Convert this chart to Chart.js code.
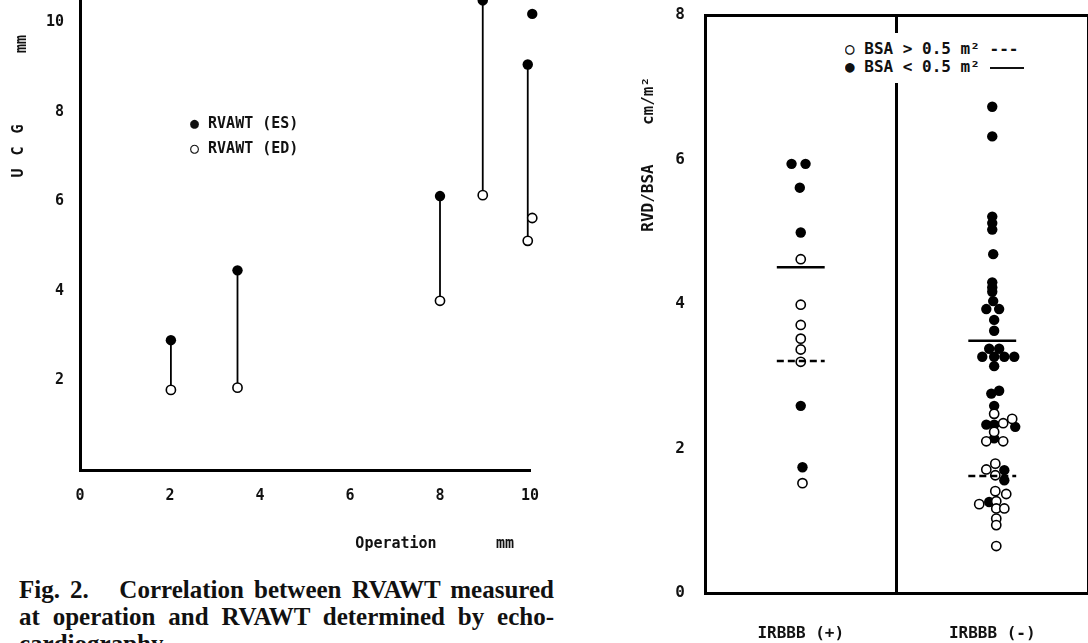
<!DOCTYPE html>
<html lang="en">
<head>
  <meta charset="UTF-8">
  <title>Fig. 2 - RVAWT / RVD-BSA</title>
  <script src="https://cdn.jsdelivr.net/npm/chart.js@4"></script>
  <style>
    html, body { margin: 0; padding: 0; width: 1088px; height: 643px; overflow: hidden; background: #fff; }
    #page { position: relative; width: 1088px; height: 643px; overflow: hidden; }
    #leftBox { position: absolute; left: 0; top: 0; width: 600px; height: 560px; }
    #rightBox { position: absolute; left: 640px; top: 0; width: 450px; height: 643px; }
    .txt {
      position: absolute;
      font-family: "DejaVu Sans Mono", monospace;
      font-weight: bold;
      color: #111;
      white-space: pre;
      line-height: 1;
    }
    .rot { transform: translate(-50%, -50%) rotate(-90deg); }
    .mid { transform: translate(-50%, -50%); }
    #legendLeft { left: 190px; top: 111px; font-size: 15px; line-height: 25px; }
    #legendRight {
      left: 845px; top: 33px; width: 192px; height: 50px;
      background: #fff; font-size: 16px; line-height: 18px; padding-top: 7px; box-sizing: border-box;
    }
    .solidMark { display: inline-block; width: 34px; border-top: 2px solid #111; vertical-align: middle; }
    #caption {
      position: absolute; left: 19px; top: 576px; width: 535px;
      font-family: "Liberation Serif", "Times New Roman", serif;
      font-weight: bold; font-size: 25px; line-height: 27px; color: #111;
    }
    #caption div { text-align: justify; text-align-last: justify; white-space: nowrap; }
    #caption div.last { text-align-last: left; }
  </style>
</head>
<body>
  <div id="page">
    <div id="leftBox"><canvas id="leftChart" width="600" height="560"></canvas></div>
    <div id="rightBox"><canvas id="rightChart" width="450" height="643"></canvas></div>

    <!-- left chart texts -->
    <div class="txt rot" style="left:21px; top:44px; font-size:15px;">mm</div>
    <div class="txt rot" style="left:18px; top:150px; font-size:15px; letter-spacing:2px;">U C G</div>
    <div class="txt mid" style="left:396px; top:543px; font-size:15px;">Operation</div>
    <div class="txt mid" style="left:505px; top:543px; font-size:15px;">mm</div>
    <div class="txt" id="legendLeft">● RVAWT (ES)<br>○ RVAWT (ED)</div>

    <!-- right chart texts -->
    <div class="txt rot" style="left:648px; top:101px; font-size:16px;">cm/m²</div>
    <div class="txt rot" style="left:648px; top:198px; font-size:16px;">RVD/BSA</div>
    <div class="txt" id="legendRight">○ BSA &gt; 0.5 m² ---<br>● BSA &lt; 0.5 m² <span class="solidMark"></span></div>

    <div id="caption">
      <div>Fig. 2.&nbsp;&nbsp; Correlation between RVAWT measured</div>
      <div>at operation and RVAWT determined by echo-</div>
      <div class="last">cardiography.</div>
    </div>
  </div>

  <script>
    /* ---- left chart data: RVAWT at operation vs UCG (mm) ---- */
    var operationMm = [2.02, 3.50, 8.00, 8.95, 9.95, 10.05];
    var ucgES = [2.90, 4.46, 6.12, 10.49, 9.06, 10.19];
    var ucgED = [1.79, 1.84, 3.78, 6.14, 5.12, 5.63];
    var leftXTicks = [0, 2, 4, 6, 8, 10];
    var leftYTicks = [2, 4, 6, 8, 10];

    /* ---- right chart data: RVD/BSA (cm/m2) by group ---- */
    var groups = ["IRBBB (+)", "IRBBB (-)"];
    var rightYTicks = [0, 2, 4, 6, 8];
    // IRBBB (+)
    var plusLargeY = [4.62, 3.99, 3.71, 3.52, 3.37, 3.20, 1.52];
    var plusLargeX = [0.500, 0.500, 0.500, 0.500, 0.500, 0.500, 0.509];
    var plusSmallY = [5.94, 5.94, 5.61, 4.99, 2.59, 1.74];
    var plusSmallX = [0.452, 0.525, 0.495, 0.500, 0.500, 0.509];
    // IRBBB (-)
    var minusLargeY = [2.48, 2.41, 2.35, 2.23, 2.10, 2.10, 1.79, 1.71, 1.63, 1.41, 1.37, 1.27, 1.23, 1.17, 1.17, 1.03, 0.94, 0.65];
    var minusLargeX = [1.510, 1.604, 1.557, 1.510, 1.469, 1.557, 1.516, 1.469, 1.516, 1.516, 1.573, 1.521, 1.432, 1.521, 1.563, 1.521, 1.521, 1.521];
    var minusSmallY = [6.73, 6.32, 5.21, 5.12, 5.03, 4.69, 4.30, 4.23, 4.17, 4.04, 3.93, 3.93, 3.78, 3.63, 3.38, 3.38,
                       3.27, 3.27, 3.27, 3.27, 3.14, 2.80, 2.76, 2.59, 2.33, 2.33, 2.30, 2.14, 1.70, 1.56, 1.26];
    var minusSmallX = [1.500, 1.500, 1.500, 1.500, 1.500, 1.505, 1.500, 1.500, 1.500, 1.505, 1.469, 1.536, 1.510, 1.510, 1.484, 1.536,
                       1.448, 1.510, 1.563, 1.615, 1.510, 1.536, 1.495, 1.510, 1.469, 1.510, 1.620, 1.510, 1.563, 1.563, 1.484];
    // group means (dashed: BSA > 0.5, solid: BSA < 0.5)
    var meanLarge = [3.21, 1.62];
    var meanSmall = [4.51, 3.49];

    var MEAN_HALF = 0.125;
    var FONT = "DejaVu Sans Mono";

    function toPoints(xs, ys) {
      return ys.map(function(y, i) { return { x: xs[i], y: y }; });
    }

    /* vertical link between ES and ED of each case */
    function linkPoints() {
      var d = [];
      for (var i = 0; i < operationMm.length; i++) {
        d.push({ x: operationMm[i], y: ucgES[i] });
        d.push({ x: operationMm[i], y: ucgED[i] });
        d.push({ x: operationMm[i], y: null });
      }
      return d;
    }

    /* short horizontal mean bar for each group */
    function meanPoints(means) {
      var d = [];
      means.forEach(function(m, i) {
        d.push({ x: i + 0.5 - MEAN_HALF, y: m });
        d.push({ x: i + 0.5 + MEAN_HALF, y: m });
        d.push({ x: i + 0.5, y: null });
      });
      return d;
    }

    /* fix the axis box size and drop the label overflow padding Chart.js adds */
    function fixSize(w, h) {
      return function(s) {
        if (w != null) s.width = w;
        if (h != null) s.height = h;
        s.paddingTop = 0; s.paddingBottom = 0; s.paddingLeft = 0; s.paddingRight = 0;
      };
    }

    var filled = { backgroundColor: "#000", borderColor: "#000", borderWidth: 0, pointRadius: 5.2, showLine: false, clip: false };
    var open = { backgroundColor: "#fff", borderColor: "#000", borderWidth: 1.6, pointRadius: 4.6, showLine: false, clip: false };

    Chart.defaults.animation = false;
    Chart.defaults.font.family = FONT;
    Chart.defaults.color = "#111";

    /* ---- left chart ---- */
    new Chart(document.getElementById("leftChart"), {
      type: "scatter",
      data: {
        datasets: [
          Object.assign({ label: "RVAWT (ES)", data: toPoints(operationMm, ucgES), order: 0 }, filled),
          Object.assign({ label: "RVAWT (ED)", data: toPoints(operationMm, ucgED), order: 1 }, open),
          { label: "link", data: linkPoints(), showLine: true, spanGaps: false, pointRadius: 0,
            borderColor: "#000", borderWidth: 1.8, order: 2, clip: false }
        ]
      },
      options: {
        responsive: false,
        devicePixelRatio: 1,
        layout: { autoPadding: false, padding: { top: 0, right: 70, left: 0, bottom: 0 } },
        plugins: { legend: { display: false }, tooltip: { enabled: false } },
        scales: {
          x: {
            type: "linear", min: 0, max: 10,
            afterBuildTicks: function(s) { s.ticks = leftXTicks.map(function(v) { return { value: v }; }); },
            afterFit: fixSize(null, 90),
            grid: { display: false, drawTicks: false },
            border: { display: true, width: 3, color: "#000" },
            ticks: { padding: 17, font: { size: 15, weight: "bold" } }
          },
          y: {
            type: "linear", min: 0, max: 10.5,
            afterBuildTicks: function(s) { s.ticks = leftYTicks.map(function(v) { return { value: v }; }); },
            afterFit: fixSize(80, null),
            grid: { display: false, drawTicks: false },
            border: { display: true, width: 3, color: "#000" },
            ticks: { padding: 16, font: { size: 15, weight: "bold" } }
          }
        }
      }
    });

    /* ---- right chart ---- */
    var groupTicks = [];
    for (var g = 0; g <= groups.length; g++) {
      groupTicks.push(g);
      if (g < groups.length) groupTicks.push(g + 0.5);
    }

    new Chart(document.getElementById("rightChart"), {
      type: "scatter",
      data: {
        datasets: [
          { label: "mean BSA < 0.5", data: meanPoints(meanSmall), showLine: true, spanGaps: false, pointRadius: 0,
            borderColor: "#000", borderWidth: 2.5, order: 0, clip: false },
          { label: "mean BSA > 0.5", data: meanPoints(meanLarge), showLine: true, spanGaps: false, pointRadius: 0,
            borderColor: "#000", borderWidth: 2.5, borderDash: [7, 4], order: 0, clip: false },
          Object.assign({ label: "IRBBB(+) BSA > 0.5", data: toPoints(plusLargeX, plusLargeY), order: 1 }, open),
          Object.assign({ label: "IRBBB(+) BSA < 0.5", data: toPoints(plusSmallX, plusSmallY), order: 2 }, filled),
          Object.assign({ label: "IRBBB(-) BSA > 0.5", data: toPoints(minusLargeX, minusLargeY), order: 1 }, open),
          Object.assign({ label: "IRBBB(-) BSA < 0.5", data: toPoints(minusSmallX, minusSmallY), order: 2 }, filled)
        ]
      },
      options: {
        responsive: false,
        devicePixelRatio: 1,
        layout: { autoPadding: false, padding: { top: 15, right: 2, left: 0, bottom: 0 } },
        plugins: { legend: { display: false }, tooltip: { enabled: false } },
        scales: {
          x: {
            type: "linear", min: 0, max: groups.length,
            afterBuildTicks: function(s) { s.ticks = groupTicks.map(function(v) { return { value: v }; }); },
            afterFit: fixSize(null, 50),
            grid: {
              drawTicks: false,
              lineWidth: 3,
              color: function(ctx) { return ctx.tick && Number.isInteger(ctx.tick.value) ? "#000" : "rgba(0,0,0,0)"; }
            },
            border: { display: true, width: 3, color: "#000" },
            ticks: {
              padding: 31,
              autoSkip: false,
              maxRotation: 0,
              font: { size: 16, weight: "bold" },
              callback: function(v) { var i = v - 0.5; return Number.isInteger(i) ? groups[i] : ""; }
            }
          },
          y: {
            type: "linear", min: 0, max: 8,
            afterBuildTicks: function(s) { s.ticks = rightYTicks.map(function(v) { return { value: v }; }); },
            afterFit: fixSize(65, null),
            grid: {
              drawTicks: false,
              lineWidth: 3,
              color: function(ctx) { return ctx.tick && ctx.tick.value === 8 ? "#000" : "rgba(0,0,0,0)"; }
            },
            border: { display: true, width: 3, color: "#000" },
            ticks: { padding: 20, font: { size: 16, weight: "bold" } }
          }
        }
      }
    });
  </script>
</body>
</html>
